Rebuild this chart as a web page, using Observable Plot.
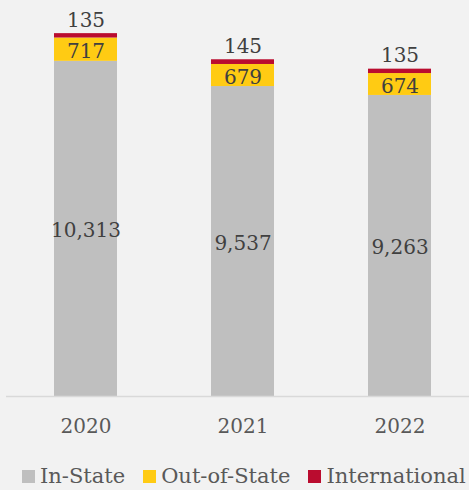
<!DOCTYPE html>
<html>
<head>
<meta charset="utf-8">
<script src="https://cdn.jsdelivr.net/npm/d3@7"></script>
<script src="https://cdn.jsdelivr.net/npm/@observablehq/plot@0.6"></script>
<style>
  html, body { margin: 0; padding: 0; background: #f2f2f2; overflow: hidden; }
  #chart { width: 469px; height: 490px; position: relative; overflow: hidden; }
  .legend { position: absolute; left: 22px; top: 464px; display: flex; align-items: center; white-space: nowrap;
    font-family: "DejaVu Serif", serif; font-size: 21px; color: #595959; }
  .legend span.sw { display: inline-block; width: 13px; height: 13px; margin-right: 5px; }
  .legend span.item { display: inline-flex; align-items: center; margin-right: 18px; }
</style>
</head>
<body>
<div id="chart"></div>
<script>
const years = ["2020", "2021", "2022"];
const types = ["In-State", "Out-of-State", "International"];
const inState = [10313, 9537, 9263];
const outOfState = [717, 679, 674];
const international = [135, 145, 135];
const colors = ["#bfbfbf", "#ffcb13", "#ba0c2f"];

const series = [inState, outOfState, international];
const data = [];
years.forEach((yr, i) => types.forEach((t, j) => data.push({year: yr, type: t, value: series[j][i]})));
const totals = years.map((yr, i) => ({year: yr, total: inState[i] + outOfState[i] + international[i], intl: international[i]}));
const fmt = d3.format(",");
const font = "DejaVu Serif, serif";

const chart = Plot.plot({
  width: 469,
  height: 458,
  marginTop: 6,
  marginBottom: 62,
  marginLeft: 6,
  marginRight: 0,
  style: {background: "transparent", fontFamily: font},
  x: {domain: years, range: [5.75, 478.25], paddingInner: 0.6, paddingOuter: 0.3, label: null},
  y: {domain: [0, 12000], axis: null},
  color: {domain: types, range: colors},
  marks: [
    Plot.barY(data, {x: "year", y: "value", fill: "type", order: types}),
    Plot.ruleY([0], {stroke: "#d9d9d9", strokeWidth: 1.5}),
    Plot.text(data.filter(d => d.type !== "International"), Plot.stackY({
      x: "year", y: "value", z: "type", text: d => fmt(d.value),
      fill: "#404040", fontSize: 20, dy: 2
    })),
    Plot.text(totals, {x: "year", y: "total", text: d => fmt(d.intl), fill: "#404040", fontSize: 20, lineAnchor: "bottom", dy: -7}),
    Plot.axisX({tickSize: 0, tickPadding: 22, fontSize: 20, color: "#595959", label: null})
  ]
});
document.getElementById("chart").appendChild(chart);

const legend = document.createElement("div");
legend.className = "legend";
types.forEach((t, j) => {
  const item = document.createElement("span");
  item.className = "item";
  const sw = document.createElement("span");
  sw.className = "sw";
  sw.style.background = colors[j];
  item.appendChild(sw);
  item.appendChild(document.createTextNode(t));
  legend.appendChild(item);
});
document.getElementById("chart").appendChild(legend);
</script>
</body>
</html>
